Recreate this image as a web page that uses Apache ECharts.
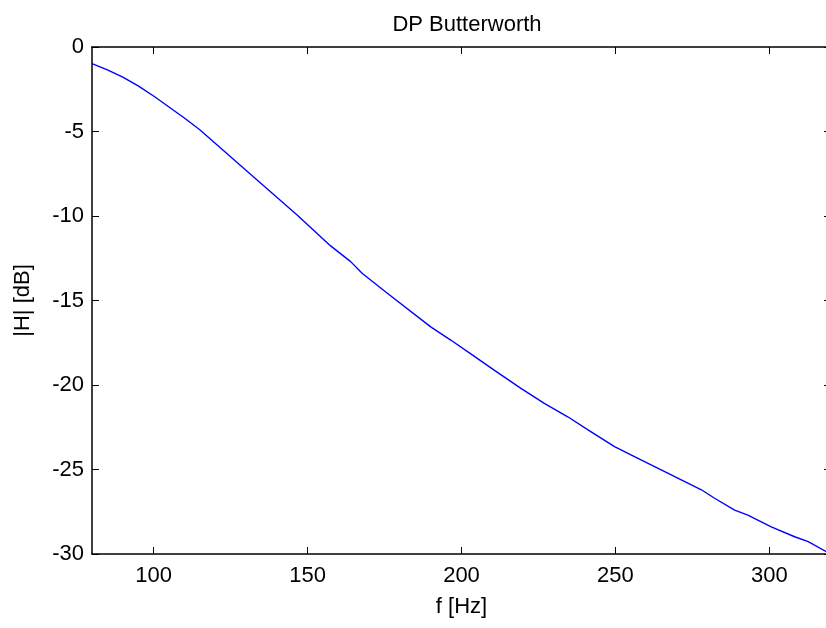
<!DOCTYPE html>
<html>
<head>
<meta charset="utf-8">
<script src="https://cdn.jsdelivr.net/npm/echarts@6/dist/echarts.min.js"></script>
<style>
  html, body { margin: 0; padding: 0; background: #fff; overflow: hidden; }
  #chart { width: 826px; height: 628px; }
</style>
</head>
<body>
<div id="chart"></div>
<script>
// Magnitude response of the low-pass Butterworth filter
const freqHz = [80, 85, 90, 95, 100, 105, 110, 115, 120, 132.5, 146.7, 157.5, 164, 167.8,
  175.4, 190, 196.5, 203.6, 210.6, 219.3, 226.9, 234.5, 242.1, 249.7, 257.3, 266, 277.9,
  282.2, 288.7, 293, 300.6, 308.2, 312.6, 318.5, 320];
const gainDb = [-0.98, -1.35, -1.78, -2.30, -2.90, -3.55, -4.20, -4.90, -5.70, -7.69, -9.95, -11.77, -12.7, -13.4,
  -14.5, -16.56, -17.34, -18.23, -19.12, -20.2, -21.09, -21.88, -22.77, -23.65, -24.34, -25.13, -26.2,
  -26.7, -27.4, -27.7, -28.39, -28.98, -29.27, -29.86, -30.0];
const xTicks = [100, 150, 200, 250, 300];
const yTicks = [-30, -25, -20, -15, -10, -5, 0];

const FONT = 'Liberation Sans';
const FS = 22;
const points = freqHz.map((f, i) => [f, gainDb[i]]);

const frame = { show: true, onZero: false, lineStyle: { color: '#000', width: 1.5 } };
const tick = { show: true, inside: true, length: 7, lineStyle: { color: '#000', width: 1 } };

const chart = echarts.init(document.getElementById('chart'));
chart.setOption({
  animation: false,
  backgroundColor: '#fff',
  title: {
    text: 'DP Butterworth',
    left: 462, top: 9, textAlign: 'center',
    textStyle: { fontFamily: FONT, fontSize: FS, fontWeight: 'normal', color: '#000' }
  },
  // the plot box runs a few pixels past the right edge of the canvas
  grid: { left: 92, top: 47, width: 739, height: 507, containLabel: false, outerBoundsMode: 'none' },
  xAxis: [
    {
      type: 'value', min: 80, max: 320, position: 'bottom',
      name: 'f [Hz]', nameLocation: 'middle', nameGap: 42,
      nameTextStyle: { fontFamily: FONT, fontSize: FS, color: '#000' },
      axisLine: frame,
      axisTick: Object.assign({}, tick, { customValues: xTicks }),
      axisLabel: { customValues: xTicks, fontFamily: FONT, fontSize: FS, color: '#000', margin: 11 },
      splitLine: { show: false }
    },
    {
      type: 'value', min: 80, max: 320, position: 'top',
      axisLine: frame,
      axisTick: Object.assign({}, tick, { customValues: xTicks }),
      axisLabel: { show: false },
      splitLine: { show: false }
    }
  ],
  yAxis: [
    {
      type: 'value', min: -30, max: 0, interval: 5, position: 'left',
      name: '|H| [dB]', nameLocation: 'middle', nameGap: 58, nameRotate: 90,
      nameTextStyle: { fontFamily: FONT, fontSize: FS, color: '#000' },
      axisLine: frame,
      axisTick: Object.assign({}, tick, { customValues: yTicks }),
      axisLabel: { customValues: yTicks, fontFamily: FONT, fontSize: FS, color: '#000', margin: 8 },
      splitLine: { show: false }
    },
    {
      type: 'value', min: -30, max: 0, interval: 5, position: 'right',
      axisLine: frame,
      axisTick: Object.assign({}, tick, { customValues: yTicks }),
      axisLabel: { show: false },
      splitLine: { show: false }
    }
  ],
  series: [
    {
      type: 'line',
      data: points,
      xAxisIndex: 0, yAxisIndex: 0,
      showSymbol: false,
      smooth: false,
      lineStyle: { color: '#0000ff', width: 1.4 },
      clip: true
    }
  ]
});
</script>
</body>
</html>
